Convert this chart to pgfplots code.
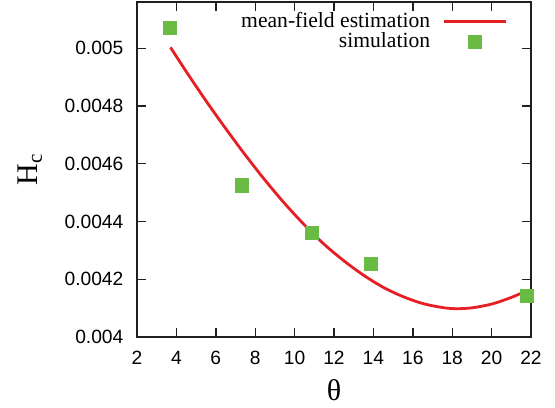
\documentclass[border=0pt]{standalone}
\usepackage{fontspec}
\setmainfont{Liberation Serif}
\newfontfamily\ticksf{Liberation Sans}
\usepackage{pgfplots}
\pgfplotsset{compat=1.18}
\definecolor{simgreen}{RGB}{106,187,67}
\definecolor{mfred}{RGB}{232,30,37}
\pgfplotsset{
    linelegend/.style={legend image code/.code={\draw[##1] (0pt,0pt) -- (31pt,0pt);}},
    marklegend/.style={legend image code/.code={\path (0pt,0pt) (31pt,0pt);
        \draw[##1, only marks] plot coordinates {(15.5pt,0pt)};}},
}
\begin{document}
\begin{tikzpicture}
\begin{axis}[
    scale only axis,
    width=197pt, height=167.5pt,
    xmin=2, xmax=22,
    ymin=0.004, ymax=0.00516,
    xtick={2,4,...,22},
    ytick={0.004,0.0042,0.0044,0.0046,0.0048,0.005},
    scaled y ticks=false,
    yticklabel style={xshift=-3.3pt, /pgf/number format/fixed, /pgf/number format/precision=4},
    /pgf/number format/assume math mode=true,
    tick label style={font=\ticksf\fontsize{9.6}{11}\selectfont},
    xticklabel style={yshift=-3.5pt},
    tick align=inside,
    major tick length=4.5pt,
    axis line style={line width=1pt, black!88},
    every tick/.style={line width=0.7pt, black!88},
    xlabel={θ},
    ylabel={H\textsubscript{c}},
    label style={font=\fontsize{15}{17}\selectfont},
    xlabel style={at={(axis description cs:0.5,0)}, anchor=center, yshift=-26.5pt},
    ylabel style={at={(axis description cs:0,0.5)}, anchor=center, yshift=53.5pt},
    legend style={draw=none, fill=none, inner sep=0pt, outer sep=0pt,
        at={(0.939,0.968)}, anchor=north east,
        nodes={inner sep=0pt},
        font=\fontsize{10.8}{11}\selectfont, column sep=6pt, row sep=1pt},
    legend cell align=right,
    legend plot pos=right,
]
\coordinate (ll) at (rel axis cs:0,0);
\coordinate (ur) at (rel axis cs:1,1);
\addplot[mfred, line width=1.4pt, smooth, linelegend] coordinates {
    (3.7,0.005003) (4.5,0.004919) (5.5,0.004818) (6.5,0.004722)
    (7.5,0.004630) (8.5,0.004543) (9.5,0.004462) (10.5,0.004388)
    (11.5,0.004321) (12.5,0.004264) (13.5,0.004214) (14.5,0.004172)
    (15.5,0.004140) (16.5,0.004116) (17.5,0.004102) (18.2,0.004098)
    (19,0.004101) (20,0.004114) (21,0.004137) (21.78,0.004160)
};
\addlegendentry{mean-field estimation}
\addplot[only marks, mark=square*, mark size=3.3pt, color=simgreen, marklegend] coordinates {
    (3.68,0.005069) (7.33,0.004525) (10.88,0.004360) (13.88,0.004252) (21.78,0.004142)
};
\addlegendentry{simulation}
\end{axis}
\path ([shift={(-68.5pt,-35pt)}]ll) rectangle ([shift={(12pt,1pt)}]ur);
\end{tikzpicture}
\end{document}
